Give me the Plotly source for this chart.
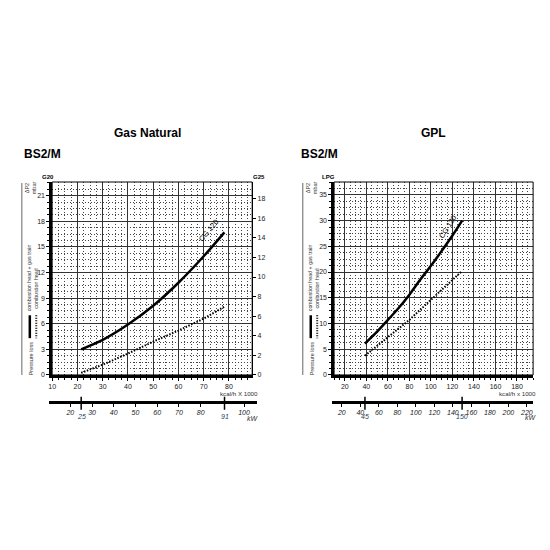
import plotly.graph_objects as go

W = H = 550
KW_PER_KCAL = 1.163

# Gas Natural (G20 / G25)
gn_kcal = [21.5, 30, 40, 50, 60, 70, 78.2]
gn_total = [3.0, 4.1, 5.9, 8.1, 10.8, 13.9, 16.7]
gn_head = [0.25, 1.2, 2.5, 3.9, 5.2, 6.6, 8.0]
gn_kcal_ticks = [10, 20, 30, 40, 50, 60, 70, 80]
gn_kw_ticks = [20, 30, 40, 50, 60, 70, 80, 100]
gn_kw_marks = [25, 91]
g20_ticks = [0, 3, 6, 9, 12, 15, 18, 21]
g25_ticks = [0, 2, 4, 6, 8, 10, 12, 14, 16, 18]

# GPL (LPG)
lpg_kcal = [38.7, 50, 60, 70, 80, 90, 100, 110, 120, 129]
lpg_total = [6.1, 8.4, 10.7, 13.0, 15.6, 18.5, 21.2, 24.1, 27.1, 30.0]
lpg_head_kcal = [38.7, 60, 80, 100, 129]
lpg_head = [3.75, 7.3, 10.7, 14.6, 20.2]
lpg_kcal_ticks = [20, 40, 60, 80, 100, 120, 140, 160, 180]
lpg_kw_ticks = [20, 40, 60, 80, 100, 120, 140, 160, 180, 200, 220]
lpg_kw_marks = [45, 150]
lpg_ticks = [0, 5, 10, 15, 20, 25, 30, 35]

FONT = "Liberation Sans"
TICKF = dict(family=FONT, size=7, color="#222")


def px(x):
    return x / W


def py(y):
    return 1 - y / H


def kw_range(k0, k1, p0, p1, q0, q1):
    # kW axis drawn over [q0, q1] px, lined up with the kcal axis [k0, k1] on [p0, p1] px
    s = (p1 - p0) / (k1 - k0)
    return [KW_PER_KCAL * (k0 + (q0 - p0) / s), KW_PER_KCAL * (k0 + (q1 - p0) / s)]


def grid_axis(**kw):
    base = dict(showgrid=True, gridcolor="#333", gridwidth=1, zeroline=False,
                showline=True, linecolor="black", linewidth=2.5,
                ticks="outside", ticklen=3, tickcolor="black", tickfont=TICKF,
                fixedrange=True)
    base.update(kw)
    return base


fig = go.Figure()
shapes, notes = [], []


def panel(xa, ya, kxa, hya, kcal_rng, y_rng, box, kw_box, kcal_ticks, kcal_minor,
          y_ticks, y_minor, kw_ticks, kw_marks, total_x, total_y, head_x, head_y,
          cg_pos, cg_angle):
    x0, x1, ytop, ybot = box
    xs, ys = xa.replace("axis", ""), ya.replace("axis", "")
    kxs, hys = kxa.replace("axis", ""), hya.replace("axis", "")
    fig.add_trace(go.Scatter(x=head_x, y=head_y, mode="lines", xaxis=xs, yaxis=ys,
                             line=dict(color="black", width=2, dash="1.5px,1.5px"),
                             showlegend=False, hoverinfo="skip"))
    fig.add_trace(go.Scatter(x=total_x, y=total_y, mode="lines", xaxis=xs, yaxis=ys,
                             line=dict(color="black", width=2.5, shape="spline"),
                             showlegend=False, hoverinfo="skip"))
    fig.add_trace(go.Scatter(x=kw_marks, y=[0, 0], mode="markers", xaxis=kxs, yaxis=hys,
                             marker=dict(opacity=0), showlegend=False, hoverinfo="skip"))
    minor = dict(tick0=0, showgrid=True, griddash="1px,2px", gridcolor="#444",
                 ticks="outside", ticklen=2)
    fig.layout[xa] = grid_axis(domain=[px(x0), px(x1)], range=kcal_rng, anchor=ys,
                               tickvals=kcal_ticks, minor=dict(dtick=kcal_minor, **minor))
    fig.layout[ya] = grid_axis(domain=[py(ybot), py(ytop)], range=y_rng, anchor=xs,
                               tickvals=y_ticks, minor=dict(dtick=y_minor, **minor))
    q0, q1 = kw_box
    fig.layout[kxa] = dict(domain=[px(q0), px(q1)],
                           range=kw_range(kcal_rng[0], kcal_rng[1], x0, x1, q0, q1),
                           anchor=hys, showline=True, linewidth=2.5, linecolor="black",
                           showgrid=False, zeroline=False, ticks="outside", ticklen=3,
                           tickcolor="black", tickvals=kw_ticks,
                           tickfont=dict(family=FONT, size=7, color="#222", style="italic"),
                           fixedrange=True)
    fig.layout[hya] = dict(domain=[py(403), py(400)], range=[0, 1], visible=False,
                           fixedrange=True)
    # frame
    shapes.append(dict(type="rect", xref=xs + " domain", yref=ys + " domain",
                       x0=0, x1=1, y0=0, y1=1, line=dict(color="black", width=1)))
    # burner range marks on the kW scale
    for m in kw_marks:
        shapes.append(dict(type="line", xref=kxs, yref="paper", x0=m, x1=m,
                           y0=py(399), y1=py(412), line=dict(color="black", width=1.5)))
        notes.append(dict(x=m, y=py(419), xref=kxs, yref="paper", text=str(m),
                          yanchor="middle", showarrow=False,
                          font=dict(family=FONT, size=7, style="italic")))
    notes.append(dict(x=cg_pos[0], y=cg_pos[1], xref=xs, yref=ys, text="CG 120",
                      textangle=cg_angle, showarrow=False,
                      font=dict(family=FONT, size=7.5, color="black")))


panel("xaxis", "yaxis", "xaxis2", "yaxis3", [10, 89.2], [0, 22.6],
      (48.5, 250, 183, 377), (45, 255), gn_kcal_ticks, 2.5, g20_ticks, 0.75,
      gn_kw_ticks, gn_kw_marks, gn_kcal, gn_total, gn_kcal, gn_head, (72.0, 16.9), -50)

panel("xaxis3", "yaxis4", "xaxis4", "yaxis5", [10, 195], [0, 37.5],
      (332.5, 533, 183, 377), (330, 533), lpg_kcal_ticks, 5, lpg_ticks, 1.25,
      lpg_kw_ticks, lpg_kw_marks, lpg_kcal, lpg_total, lpg_head_kcal, lpg_head,
      (116, 28.8), -58)

# G25 scale on the right of the natural gas chart
fig.add_trace(go.Scatter(x=[50, 50], y=g25_ticks[:2], mode="markers", xaxis="x", yaxis="y2",
                         marker=dict(opacity=0), showlegend=False, hoverinfo="skip"))
fig.layout.yaxis2 = dict(overlaying="y", side="right", anchor="x", range=[0, 19.7],
                         tickvals=g25_ticks, showgrid=False, zeroline=False, showline=True,
                         linecolor="black", linewidth=1, ticks="outside", ticklen=3,
                         tickcolor="black", tickfont=TICKF, fixedrange=True)


def text(x, y, s, size=7, angle=0, bold=False, italic=False, xanchor="center", color="#333"):
    notes.append(dict(x=px(x), y=py(y), xref="paper", yref="paper", text=s, showarrow=False,
                      textangle=angle, xanchor=xanchor, yanchor="middle",
                      font=dict(family=FONT, size=size, color=color,
                                weight="bold" if bold else "normal",
                                style="italic" if italic else "normal")))


# titles
text(145, 134, "Gas Natural", size=12, bold=True, color="black")
text(18, 155, "BS2/M", size=12, bold=True, xanchor="left", color="black")
text(433, 134, "GPL", size=12, bold=True, color="black")
text(297, 155, "BS2/M", size=12, bold=True, xanchor="left", color="black")

# gas labels
text(44.5, 178, "G20", size=6, bold=True, color="black")
text(256.5, 178, "G25", size=6, bold=True, color="black")
text(327, 177.5, "LPG", size=6, bold=True, color="black")

# axis captions
text(237, 396, "kcal/h X 1000", size=6.2)
text(251, 420.5, "kW", size=7, italic=True)
text(517.5, 396, "kcal/h x 1000", size=6.2)
text(530.5, 419.5, "kW", size=7, italic=True)

# side legend for both charts
for dx in (0, 283):
    text(23.5 + dx, 189, "ΔP2", size=5.5, angle=-90)
    text(30.5 + dx, 189, "mbar", size=5.5, angle=-90)
    text(27.5 + dx, 360, "Pressure loss", size=5.5, angle=-90)
    text(26 + dx, 279, "combustion head + gas train", size=5.3, angle=-90)
    text(32.5 + dx, 290, "combustion head", size=5.3, angle=-90)
    shapes.append(dict(type="line", xref="paper", yref="paper", x0=px(18 + dx), x1=px(18 + dx),
                       y0=py(184), y1=py(377), line=dict(color="#666", width=1)))
    shapes.append(dict(type="line", xref="paper", yref="paper", x0=px(26 + dx), x1=px(26 + dx),
                       y0=py(317), y1=py(340), line=dict(color="black", width=2.5)))
    shapes.append(dict(type="line", xref="paper", yref="paper", x0=px(32.5 + dx), x1=px(32.5 + dx),
                       y0=py(317), y1=py(340), line=dict(color="black", width=2, dash="1px,1.5px")))

fig.update_layout(width=W, height=H, margin=dict(l=0, r=0, t=0, b=0),
                  paper_bgcolor="white", plot_bgcolor="white",
                  shapes=shapes, annotations=notes, showlegend=False)

# the page's default body margin would push the 550px figure off its spot
fig.write_html("out.html", config={"displayModeBar": False},
               post_script="document.body.style.margin='0px';")
